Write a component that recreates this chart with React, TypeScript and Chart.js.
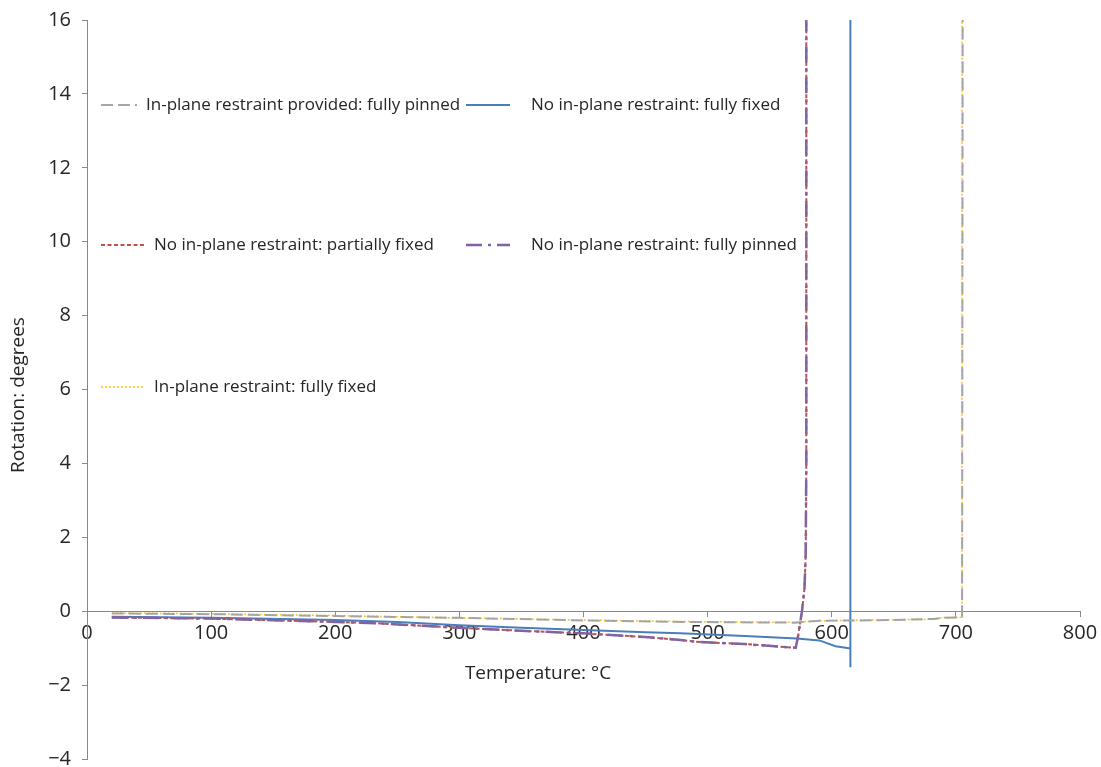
import React, { useEffect, useRef } from "react";
import { Chart, registerables } from "chart.js";

Chart.register(...registerables);

// ---- data ----
const xTickValues = [0, 100, 200, 300, 400, 500, 600, 700, 800];
const yTickValues = [-4, -2, 0, 2, 4, 6, 8, 10, 12, 14, 16];

const pinnedProvidedTemp = [20, 100, 200, 300, 400, 480, 570, 590, 650, 682, 690, 703, 705, 705.5];
const pinnedProvidedRot = [-0.06, -0.08, -0.13, -0.18, -0.25, -0.29, -0.31, -0.26, -0.24, -0.21, -0.18, -0.17, -0.15, 16];

const fixedNoneTemp = [20, 100, 200, 250, 300, 350, 400, 450, 478, 530, 572, 590, 603, 614, 615, 615, 615];
const fixedNoneRot = [-0.15, -0.18, -0.24, -0.29, -0.38, -0.45, -0.51, -0.57, -0.6, -0.67, -0.74, -0.79, -0.95, -1.0, -1.0, -1.52, 16];

const partialNoneTemp = [20, 100, 200, 236, 300, 350, 400, 450, 478, 491, 530, 571, 573, 576, 578, 579, 579.5, 579.5];
const partialNoneRot = [-0.17, -0.2, -0.29, -0.33, -0.45, -0.53, -0.6, -0.7, -0.78, -0.83, -0.89, -0.99, -0.65, 0, 0.6, 1.5, 4, 16];

const pinnedNoneTemp = [20, 100, 200, 236, 300, 350, 400, 450, 478, 491, 530, 571, 573, 576, 578, 579, 579.5, 579.5];
const pinnedNoneRot = [-0.17, -0.2, -0.29, -0.33, -0.45, -0.53, -0.6, -0.7, -0.78, -0.83, -0.89, -0.99, -0.65, 0, 0.6, 1.5, 4, 16];

const fixedInPlaneTemp = [20, 100, 200, 300, 400, 480, 570, 590, 650, 680, 690, 703, 705, 705];
const fixedInPlaneRot = [-0.05, -0.07, -0.12, -0.18, -0.24, -0.28, -0.3, -0.26, -0.23, -0.22, -0.17, -0.17, -0.16, 16];

const seriesLabels = [
  "In-plane restraint provided: fully pinned",
  "No in-plane restraint: fully fixed",
  "No in-plane restraint: partially fixed",
  "No in-plane restraint: fully pinned",
  "In-plane restraint: fully fixed",
];

const xTitle = "Temperature: °C";
const yTitle = "Rotation: degrees";

const toPoints = (xs: number[], ys: number[]) => xs.map((x, i) => ({ x, y: ys[i] }));

// ---- styles ----
const FONT = "'Open Sans', 'Noto Sans', sans-serif";
const TEXT = "#262626";
const AXIS = "#898989";
const styles = [
  { color: "#a5a5a5", width: 2, dash: [12, 5] },
  { color: "#4a7ebb", width: 2, dash: [] as number[] },
  { color: "#c0504d", width: 2, dash: [4, 2.5] },
  { color: "#8064a2", width: 2.5, dash: [16, 6, 3, 6] },
  { color: "#ffc000", width: 1.5, dash: [2, 2] },
];

// legend layout: [sampleX0, sampleX1, textX, y]
const legendLayout = [
  [101, 137, 146, 105],
  [466, 510, 531, 105],
  [101, 145, 154, 245],
  [466, 510, 531, 245],
  [101, 144, 154, 387],
];

const overlayPlugin = {
  id: "overlay",
  afterDraw(chart: any) {
    const ctx = chart.ctx;
    ctx.save();
    // legend
    ctx.font = `17px ${FONT}`;
    ctx.textBaseline = "middle";
    ctx.textAlign = "left";
    seriesLabels.forEach((label, i) => {
      const [x0, x1, tx, y] = legendLayout[i];
      const st = styles[i];
      ctx.beginPath();
      ctx.strokeStyle = st.color;
      ctx.lineWidth = st.width;
      ctx.setLineDash(st.dash);
      ctx.moveTo(x0, y);
      ctx.lineTo(x1, y);
      ctx.stroke();
      ctx.setLineDash([]);
      ctx.fillStyle = TEXT;
      ctx.fillText(label, tx, y);
    });
    // axis titles
    const y0 = chart.scales.y.getPixelForValue(0);
    ctx.font = `19px ${FONT}`;
    ctx.textAlign = "center";
    ctx.fillStyle = TEXT;
    ctx.fillText(xTitle, 538, y0 + 62);
    ctx.translate(19, 395);
    ctx.rotate(-Math.PI / 2);
    ctx.fillText(yTitle, 0, 0);
    ctx.restore();
  },
};

export default function App() {
  const canvasRef = useRef<HTMLCanvasElement | null>(null);

  useEffect(() => {
    const canvas = canvasRef.current;
    if (!canvas) return;
    const seriesData = [
      toPoints(pinnedProvidedTemp, pinnedProvidedRot),
      toPoints(fixedNoneTemp, fixedNoneRot),
      toPoints(partialNoneTemp, partialNoneRot),
      toPoints(pinnedNoneTemp, pinnedNoneRot),
      toPoints(fixedInPlaneTemp, fixedInPlaneRot),
    ];
    const drawOrder = [0, 4, 3, 1, 2];
    const chart = new Chart(canvas, {
      type: "line",
      data: {
        datasets: seriesLabels.map((label, i) => ({
          label,
          data: seriesData[i],
          borderColor: styles[i].color,
          borderWidth: styles[i].width,
          borderDash: styles[i].dash,
          pointRadius: 0,
          fill: false,
          tension: 0,
          order: drawOrder[i],
        })),
      },
      options: {
        animation: false,
        responsive: false,
        maintainAspectRatio: false,
        layout: { padding: { left: 0, top: 20, right: 21, bottom: 8 } },
        plugins: { legend: { display: false }, tooltip: { enabled: false } },
        scales: {
          x: {
            type: "linear",
            position: { y: 0 } as any,
            min: 0,
            max: 800,
            afterBuildTicks: (scale: any) => {
              scale.ticks = xTickValues.map((v) => ({ value: v }));
            },
            afterFit: (scale: any) => {
              scale.height = 0;
              scale.paddingLeft = 0;
              scale.paddingRight = 0;
              scale.paddingTop = 0;
              scale.paddingBottom = 0;
            },
            ticks: {
              color: TEXT,
              font: { family: FONT, size: 20 },
              padding: 5,
              maxRotation: 0,
            },
            grid: { drawOnChartArea: false, drawTicks: true, tickLength: 5, color: AXIS },
            border: { color: AXIS, width: 1 },
          },
          y: {
            type: "linear",
            min: -4,
            max: 16,
            afterBuildTicks: (scale: any) => {
              scale.ticks = yTickValues.map((v) => ({ value: v }));
            },
            afterFit: (scale: any) => {
              scale.width = 87;
              scale.paddingLeft = 0;
              scale.paddingRight = 0;
              scale.paddingTop = 0;
              scale.paddingBottom = 0;
            },
            ticks: {
              color: TEXT,
              font: { family: FONT, size: 20 },
              padding: 11,
              callback: (v: any) => String(v).replace("-", "\u2212"),
            },
            grid: { drawOnChartArea: false, drawTicks: true, tickLength: 5, color: AXIS },
            border: { color: AXIS, width: 1 },
          },
        },
      },
      plugins: [overlayPlugin],
    });
    return () => chart.destroy();
  }, []);

  return (
    <div style={{ position: "fixed", left: 0, top: 0, width: 1101, height: 767, background: "#fff" }}>
      <canvas ref={canvasRef} width={1101} height={767} style={{ width: 1101, height: 767, display: "block" }} />
    </div>
  );
}
